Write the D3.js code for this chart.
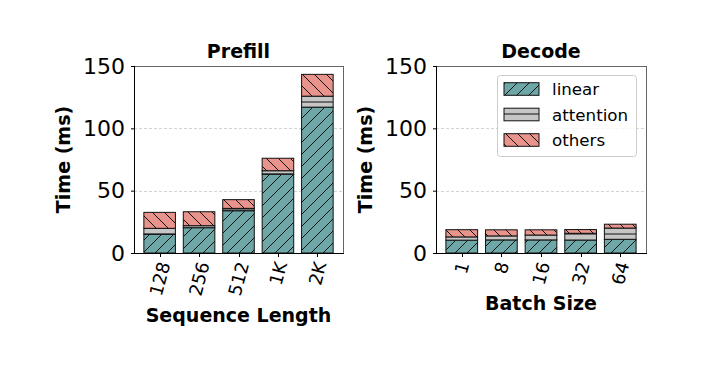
<!DOCTYPE html>
<html><head><meta charset="utf-8">
<script src="https://cdn.jsdelivr.net/npm/d3@7"></script>
<style>body{margin:0;background:#fff}svg{display:block}text{font-family:"DejaVu Sans",sans-serif}</style>
</head><body>
<script>
const prefillCats = ["128", "256", "512", "1K", "2K"];
const prefillLinear = [15.0, 20.3, 33.9, 63.2, 117.0];
const prefillAttention = [4.8, 1.6, 1.9, 2.8, 8.8];
const prefillOthers = [12.8, 11.2, 7.0, 10.0, 17.5];

const decodeCats = ["1", "8", "16", "32", "64"];
const decodeLinear = [10.3, 10.5, 10.5, 10.4, 11.0];
const decodeAttention = [2.6, 3.2, 3.9, 5.4, 9.0];
const decodeOthers = [5.8, 4.9, 4.2, 3.0, 3.1];

const yTicks = [0, 50, 100, 150];
const seriesNames = ["linear", "attention", "others"];
const seriesColors = ["#6ea7a8", "#c6c6c6", "#e8938b"];
const seriesPatterns = ["hatchSlash", "hatchDash", "hatchBack"];

const W = 705, H = 365;
const svg = d3.select("body").append("svg").attr("width", W).attr("height", H);
const defs = svg.append("defs");
const P = 12;
function addPattern(id, color, drawFn) {
  const p = defs.append("pattern").attr("id", id).attr("patternUnits", "userSpaceOnUse")
    .attr("width", P).attr("height", P);
  p.append("rect").attr("width", P).attr("height", P).attr("fill", color);
  drawFn(p);
}
addPattern("hatchSlash", seriesColors[0], p => {
  p.append("path").attr("d", `M-1,${P+1}L${P+1},-1 M${-P/2-1},${P/2+1}L${P/2+1},${-P/2-1} M${P/2-1},${P*1.5+1}L${P*1.5+1},${P/2-1}`)
    .attr("stroke", "#111").attr("stroke-width", 1).attr("fill", "none");
});
addPattern("hatchDash", seriesColors[1], p => {
  p.append("path").attr("d", `M0,${P/2}H${P}`).attr("stroke", "#111").attr("stroke-width", 1);
});
addPattern("hatchBack", seriesColors[2], p => {
  p.append("path").attr("d", `M-1,-1L${P+1},${P+1} M${P/2-1},${-P/2-1}L${P*1.5+1},${P/2+1} M${-P/2-1},${P/2-1}L${P/2+1},${P*1.5+1}`)
    .attr("stroke", "#111").attr("stroke-width", 1).attr("fill", "none");
});

function panel(opts) {
  const {x0, x1, y0, y1, cats, series, title, xlabel, xlabelY} = opts;
  const g = svg.append("g");
  const x = d3.scaleLinear().domain([-0.65, cats.length - 0.35]).range([x0, x1]);
  const y = d3.scaleLinear().domain([0, 150]).range([y1, y0]);
  const bw = 0.8;

  // grid
  g.selectAll(".grid").data(yTicks.filter(t => t > 0 && t < 150)).enter().append("line")
    .attr("x1", x0).attr("x2", x1).attr("y1", d => Math.round(y(d)) + 0.5).attr("y2", d => Math.round(y(d)) + 0.5)
    .attr("stroke", "#c8c8c8").attr("stroke-width", 0.8).attr("stroke-dasharray", "3,2");

  // stacked bars
  const stackData = cats.map((c, i) => ({cat: i, linear: series[0][i], attention: series[1][i], others: series[2][i]}));
  const stacked = d3.stack().keys(seriesNames)(stackData);
  stacked.forEach((layer, si) => {
    g.selectAll(null).data(layer).enter().append("rect")
      .attr("x", (d, i) => x(i - bw / 2))
      .attr("width", (d, i) => x(i + bw / 2) - x(i - bw / 2))
      .attr("y", d => y(d[1]))
      .attr("height", d => y(d[0]) - y(d[1]))
      .attr("fill", `url(#${seriesPatterns[si]})`)
      .attr("stroke", "#111").attr("stroke-width", 1);
  });

  // spines
  g.append("line").attr("x1", x0).attr("x2", x1).attr("y1", y0 + 0.5).attr("y2", y0 + 0.5).attr("stroke", "#666").attr("stroke-width", 1);
  g.append("line").attr("x1", x1 + 0.5).attr("x2", x1 + 0.5).attr("y1", y0).attr("y2", y1).attr("stroke", "#666").attr("stroke-width", 1);

  // y axis
  const yAxis = d3.axisLeft(y).tickValues(yTicks).tickSize(3.5).tickPadding(6).tickFormat(d3.format("d"));
  const ya = g.append("g").attr("transform", `translate(${x0 + 0.5},0)`).call(yAxis);
  ya.select(".domain").attr("stroke", "#000").attr("stroke-width", 1).attr("d", `M-0,${y0}V${y1}`);
  ya.selectAll(".tick line").attr("stroke", "#000");
  ya.selectAll(".tick text").attr("font-size", 22).attr("fill", "#000").attr("font-family", "DejaVu Sans");

  // x axis
  const xa = g.append("g").attr("transform", `translate(0,${y1 + 0.5})`);
  xa.append("line").attr("x1", x0).attr("x2", x1 + 1).attr("stroke", "#000").attr("stroke-width", 1);
  const ang = 75, rad = ang * Math.PI / 180, fs = 18;
  cats.forEach((c, i) => {
    const tx = Math.round(x(i)) + 0.5;
    xa.append("line").attr("x1", tx).attr("x2", tx).attr("y1", 0).attr("y2", 3.5).attr("stroke", "#000");
    const t = xa.append("text").text(c).attr("font-size", fs).attr("fill", "#000")
      .attr("text-anchor", "middle").attr("dominant-baseline", "central");
    const w = t.node().getComputedTextLength();
    const h = fs * 1.164;
    const BH = w * Math.sin(rad) + h * Math.cos(rad);
    t.attr("transform", `translate(${x(i)},${6 + BH / 2}) rotate(${-ang})`);
  });

  // title
  g.append("text").text(title).attr("x", (x0 + x1) / 2).attr("y", 58).attr("text-anchor", "middle")
    .attr("font-size", 19).attr("font-weight", "bold");
  // labels
  g.append("text").text(xlabel).attr("x", (x0 + x1) / 2).attr("y", xlabelY).attr("text-anchor", "middle")
    .attr("font-size", 19).attr("font-weight", "bold");
  g.append("text").text("Time (ms)").attr("text-anchor", "middle")
    .attr("transform", `translate(${x0 - 64.5},${(y0 + y1) / 2}) rotate(-90)`)
    .attr("font-size", 19).attr("font-weight", "bold");
  return {x, y};
}

panel({x0: 134, x1: 343, y0: 66, y1: 253, cats: prefillCats,
  series: [prefillLinear, prefillAttention, prefillOthers], title: "Prefill", xlabel: "Sequence Length", xlabelY: 322});
panel({x0: 436, x1: 646, y0: 66, y1: 253, cats: decodeCats,
  series: [decodeLinear, decodeAttention, decodeOthers], title: "Decode", xlabel: "Batch Size", xlabelY: 310});

// legend
const lg = svg.append("g");
lg.append("rect").attr("x", 497.5).attr("y", 75.5).attr("width", 139).attr("height", 81).attr("rx", 3)
  .attr("fill", "#fff").attr("fill-opacity", 0.8).attr("stroke", "#cccccc").attr("stroke-width", 1);
seriesNames.forEach((n, i) => {
  const cy = 89 + i * 25.5;
  lg.append("rect").attr("x", 504).attr("y", cy - 6.3).attr("width", 35).attr("height", 12.6)
    .attr("fill", `url(#${seriesPatterns[i]})`).attr("stroke", "#111").attr("stroke-width", 1);
  lg.append("text").text(n).attr("x", 552).attr("y", cy).attr("dominant-baseline", "central")
    .attr("font-size", 16.7).attr("fill", "#000");
});
</script>
</body></html>
